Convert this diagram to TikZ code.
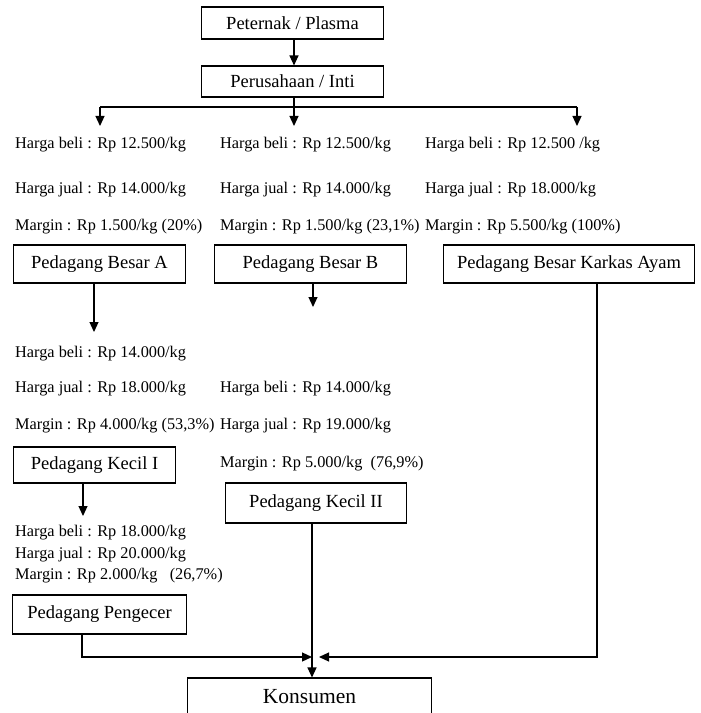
\documentclass[tikz,border=0pt]{standalone}
\usepackage{fontspec}
\setmainfont{Liberation Serif}
\usetikzlibrary{arrows.meta}
\begin{document}
\begin{tikzpicture}[x=1bp,y=-1bp,
  box/.style={draw, line width=1.2bp, inner sep=0pt, font=\fontsize{18.5bp}{22bp}\selectfont},
  info/.style={anchor=west, inner sep=0pt, text height=0.66em, text depth=0pt, font=\fontsize{16.3bp}{19bp}\selectfont},
  conn/.style={line width=1.2bp},
  arr/.style={line width=1.2bp, -{Triangle[length=10bp,width=9bp]}}]
\useasboundingbox (0,0) rectangle (701,713);
\clip (0,0) rectangle (701,713);

% boxes
\node[box, minimum width=183, minimum height=32] (pet) at (292.5,23) {Peternak / Plasma};
\node[box, minimum width=183, minimum height=31] (per) at (292.5,81.5) {Perusahaan / Inti};
\node[box, minimum width=173, minimum height=38] (ba) at (99.5,264) {Pedagang Besar A};
\node[box, minimum width=193, minimum height=38] (bb) at (310.5,264) {Pedagang Besar B};
\node[box, minimum width=252, minimum height=38] (bk) at (569,264) {Pedagang Besar Karkas Ayam};
\node[box, minimum width=163, minimum height=36] (k1) at (94.5,465) {Pedagang Kecil I};
\node[box, minimum width=182, minimum height=40] (k2) at (316,503) {Pedagang Kecil II};
\node[box, minimum width=175, minimum height=39] (pg) at (99.5,614.5) {Pedagang Pengecer};
\node[box, minimum width=245, minimum height=38, font=\fontsize{21.5bp}{25bp}\selectfont] (kon) at (309.5,697) {Konsumen};

% info texts
\node[info] (t11) at (15,145) {Harga beli : Rp 12.500/kg};
\node[info] (t12) at (220,145) {Harga beli : Rp 12.500/kg};
\node[info] (t13) at (425,145) {Harga beli : Rp 12.500 /kg};
\node[info] (t21) at (15,190) {Harga jual : Rp 14.000/kg};
\node[info] (t22) at (220,190) {Harga jual : Rp 14.000/kg};
\node[info] (t23) at (425,190) {Harga jual : Rp 18.000/kg};
\node[info] (t31) at (15,227) {Margin : Rp 1.500/kg (20\%)};
\node[info] (t32) at (220,227) {Margin : Rp 1.500/kg (23,1\%)};
\node[info] (t33) at (425,227) {Margin : Rp 5.500/kg (100\%)};

\node[info] (a1) at (15,354) {Harga beli : Rp 14.000/kg};
\node[info] (a2) at (15,389) {Harga jual : Rp 18.000/kg};
\node[info] (a3) at (15,426) {Margin : Rp 4.000/kg (53,3\%)};

\node[info] (b1) at (220,389) {Harga beli : Rp 14.000/kg};
\node[info] (b2) at (220,426) {Harga jual : Rp 19.000/kg};
\node[info] (b3) at (220,464) {Margin : Rp 5.000/kg\ \ (76,9\%)};

\node[info] (c1) at (15,533) {Harga beli : Rp 18.000/kg};
\node[info] (c2) at (15,555) {Harga jual : Rp 20.000/kg};
\node[info] (c3) at (15,576) {Margin : Rp 2.000/kg\ \ \ (26,7\%)};

% coordinates
\coordinate (brm) at (294,107);
\coordinate (brl) at (100,107);
\coordinate (brr) at (577,107);
\coordinate (tipl) at (100,126);
\coordinate (tipm) at (294,126);
\coordinate (tipr) at (577,126);
\coordinate (tipa) at (94,332);
\coordinate (tipb) at (313,307);
\coordinate (tipk) at (83,516);
\coordinate (pgc) at (82,657);
\coordinate (pgt) at (312,657);
\coordinate (bkc) at (597,657);
\coordinate (bkt) at (319,657);

% connectors
\draw[arr] (pet.south -| brm) -- (per.north -| brm);
\draw[conn] (per.south -| brm) -- (brm);
\draw[conn] (brl) -- (brr);
\draw[arr] (brl) -- (tipl);
\draw[arr] (brm) -- (tipm);
\draw[arr] (brr) -- (tipr);
\draw[arr] (ba.south -| tipa) -- (tipa);
\draw[arr] (bb.south -| tipb) -- (tipb);
\draw[arr] (k1.south -| tipk) -- (tipk);
\draw[arr] (pg.south -| pgc) -- (pgc) -- (pgt);
\draw[arr] (bk.south -| bkc) -- (bkc) -- (bkt);
\draw[arr] (k2.south -| pgt) -- (kon.north -| pgt);
\end{tikzpicture}
\end{document}
